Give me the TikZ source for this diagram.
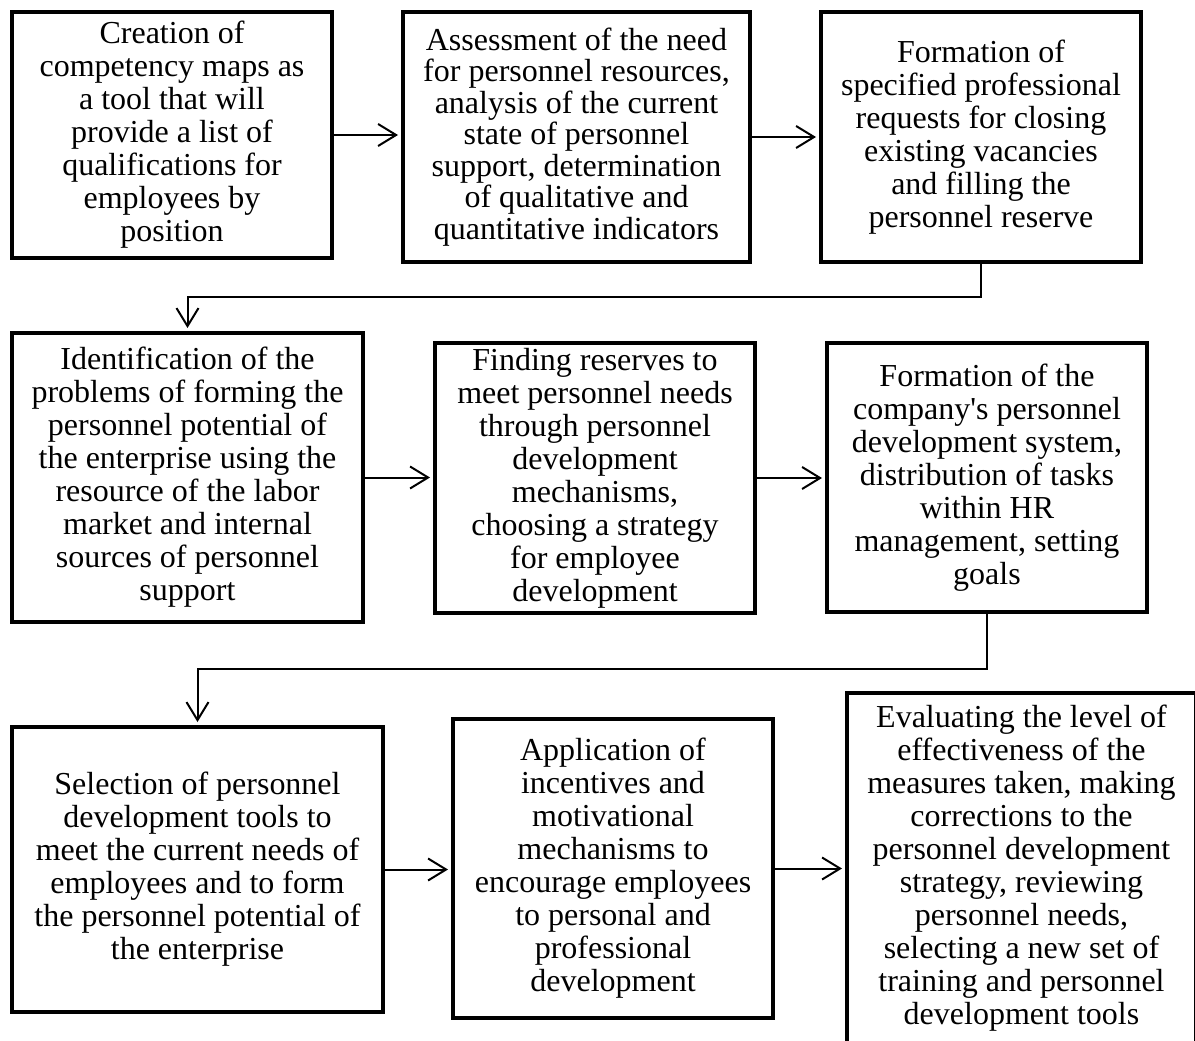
\documentclass[tikz,border=0pt]{standalone}
\usepackage{fontspec}
\setmainfont{Liberation Serif}
% same face without the TeX quote mapping, for a straight apostrophe
\newfontfamily\straightquote{Liberation Serif}[Ligatures=ResetAll]
\usetikzlibrary{arrows.meta}

\begin{document}
\begin{tikzpicture}[x=1pt,y=-1pt,
  stepbox/.style={draw=black, line width=4.5pt, fill=white, rectangle,
    inner sep=0pt, outer sep=0pt, align=center,
    font=\fontsize{32}{33}\selectfont},
  conn/.style={draw=black, line width=2pt,
    -{Straight Barb[length=18pt,width=22pt,line width=2pt]}, shorten >=5pt}]
  \path[use as bounding box, clip] (0,0) rectangle (1195,1041);
  \fill[white] (0,0) rectangle (1195,1041);

  % first row
  \node[stepbox, minimum width=320pt, minimum height=246pt] (b1) at (172,135)
    {Creation of\\competency maps as\\a tool that will\\provide a list of\\qualifications for\\employees by\\position};
  \node[stepbox, minimum width=347pt, minimum height=250pt,
        font=\fontsize{32}{31.5}\selectfont] (b2) at (576.5,137)
    {Assessment of the need\\for personnel resources,\\analysis of the current\\state of personnel\\support, determination\\of qualitative and\\quantitative indicators};
  \node[stepbox, minimum width=320pt, minimum height=250pt] (b3) at (981,137)
    {Formation of\\specified professional\\requests for closing\\existing vacancies\\and filling the\\personnel reserve};

  % second row
  \node[stepbox, minimum width=351pt, minimum height=289pt] (b4) at (187.5,477.5)
    {Identification of the\\problems of forming the\\personnel potential of\\the enterprise using the\\resource of the labor\\market and internal\\sources of personnel\\support};
  \node[stepbox, minimum width=320pt, minimum height=270pt] (b5) at (595,478)
    {Finding reserves to\\meet personnel needs\\through personnel\\development\\mechanisms,\\choosing a strategy\\for employee\\development};
  \node[stepbox, minimum width=320pt, minimum height=269pt] (b6) at (987,477.5)
    {Formation of the\\company{\straightquote\symbol{39}}s personnel\\development system,\\distribution of tasks\\within HR\\management, setting\\goals};

  % third row
  \node[stepbox, minimum width=371pt, minimum height=285pt] (b7) at (197.5,869.5)
    {Selection of personnel\\development tools to\\meet the current needs of\\employees and to form\\the personnel potential of\\the enterprise};
  \node[stepbox, minimum width=320pt, minimum height=299pt] (b8) at (613,868.5)
    {Application of\\incentives and\\motivational\\mechanisms to\\encourage employees\\to personal and\\professional\\development};
  \node[stepbox, minimum width=349pt, minimum height=350pt] (b9) at (1021.5,868)
    {Evaluating the level of\\effectiveness of the\\measures taken, making\\corrections to the\\personnel development\\strategy, reviewing\\personnel needs,\\selecting a new set of\\training and personnel\\development tools};

  % connectors
  \draw[conn] (b1.east) -- (b1.east -| b2.west);
  \draw[conn] (b2.east) -- (b2.east -| b3.west);
  \draw[conn] (b3.south) -- ++(0,35) -| (b4.north);
  \draw[conn] (b4.east) -- (b4.east -| b5.west);
  \draw[conn] (b5.east) -- (b5.east -| b6.west);
  \draw[conn] (b6.south) -- ++(0,57) -| (b7.north);
  \draw[conn] (b7.east) -- (b7.east -| b8.west);
  \draw[conn] (b8.east) -- (b8.east -| b9.west);
\end{tikzpicture}
\end{document}
